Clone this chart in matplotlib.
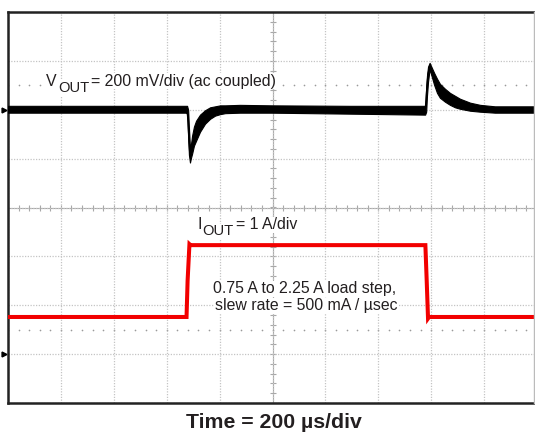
import matplotlib
matplotlib.use("Agg")
import matplotlib.pyplot as plt
import numpy as np
from matplotlib.lines import Line2D

# ---- scope settings ----
time_per_div_us = 200
n_xdiv = 10
n_ydiv = 8

# ---- Channel 1: VOUT (ac coupled), 200 mV/div, ground marker at +2 div ----
vout_scale_mv = 200
vout_ground_div = 2
vout_t_us = [0, 673, 677, 681, 684, 688, 692, 696, 703, 711, 726, 745, 764, 783,
             802, 821, 877, 998, 1293, 1577, 1581, 1584, 1588, 1594, 1599, 1611,
             1622, 1633, 1652, 1671, 1690, 1709, 1747, 1785, 1841, 2000]
vout_hi_mv = [16, 16, 16, 0, -73, -155, -139, -106, -69, -45, -20, -2, 10, 14,
              18, 18, 20, 18, 16, 16, 90, 139, 176, 192, 180, 151,
              127, 106, 86, 69, 57, 45, 29, 20, 14, 14]
vout_lo_mv = [-12, -12, -16, -102, -184, -216, -196, -180, -147, -127, -90, -57, -37, -24,
              -18, -14, -12, -12, -16, -20, -8, 57, 114, 167, 147, 102,
              69, 49, 33, 20, 10, 4, -4, -8, -12, -12]

# ---- Channel 2: IOUT, 1 A/div, ground marker at -3 div ----
iout_scale_a = 1
iout_ground_div = -3
iout_t_us = [0, 675, 679, 686, 690, 1578, 1583, 1588, 1592, 2000]
iout_a = [0.76, 0.76, 1.5, 2.25, 2.23, 2.23, 1.5, 0.73, 0.76, 0.76]

# ---- labels ----
vout_label = ("V", "OUT", "= 200 mV/div (ac coupled)")
iout_label = ("I", "OUT", "= 1 A/div")
note_lines = ["0.75 A to 2.25 A load step,", "slew rate = 500 mA / \u00b5sec"]
time_label = "Time = 200 \u00b5s/div"

plt.rcParams['font.family'] = ['Liberation Sans', 'DejaVu Sans']
txt_color = '#231f20'

W, H = 535, 432
fig = plt.figure(figsize=(W / 100, H / 100), dpi=100)
ax = fig.add_axes([8 / W, (H - 403) / H, 529 / W, 391 / H])

t_max = time_per_div_us * n_xdiv
ax.set_xlim(0, t_max)
ax.set_ylim(-n_ydiv / 2, n_ydiv / 2)

# grid
ax.set_xticks(np.arange(0, t_max + 1, time_per_div_us))
ax.set_yticks(np.arange(-n_ydiv / 2, n_ydiv / 2 + 0.1, 1))
ax.tick_params(length=0, labelbottom=False, labelleft=False)
ax.grid(True, color='#c4c4c4', linestyle=(0, (1, 1.2)), linewidth=0.9, zorder=0)

# center axes with minor ticks
grey = '#a8a8a8'
ax.axhline(0, color=grey, lw=0.8, zorder=0.5)
ax.axvline(t_max / 2, color=grey, lw=0.8, zorder=0.5)
xt = np.arange(0, t_max + 1, time_per_div_us / 5)
yt = np.arange(-n_ydiv / 2, n_ydiv / 2 + 0.01, 0.2)
ax.plot(xt, np.zeros_like(xt), ls='none', marker='|', ms=4.5, mew=0.8, color=grey, zorder=0.5)
ax.plot(np.full_like(yt, t_max / 2), yt, ls='none', marker='_', ms=4.5, mew=0.8, color=grey, zorder=0.5)

# sparse dotted marker rows at +/-2.5 div
for yy in (2.5, -2.5):
    ax.plot(xt, np.full_like(xt, yy), ls='none', marker='o', ms=1.2, mew=0,
            color='#9a9a9a', zorder=0.6)

# spines
for s in ('left', 'top', 'bottom'):
    ax.spines[s].set_color('#222222')
    ax.spines[s].set_linewidth(1.8)
ax.spines['right'].set_color('#bbbbbb')
ax.spines['right'].set_linewidth(1.0)
fig.add_artist(Line2D([534 / W, 534 / W], [(H - 403) / H, (H - 12) / H],
                      color='#bbbbbb', lw=1.0, transform=fig.transFigure))

# VOUT trace
vt = np.array(vout_t_us)
vhi = vout_ground_div + np.array(vout_hi_mv) / vout_scale_mv
vlo = vout_ground_div + np.array(vout_lo_mv) / vout_scale_mv
ax.fill_between(vt, vlo, vhi, color='black', lw=0.8, zorder=3)
ax.plot(vt, (vhi + vlo) / 2, color='black', lw=1.0, zorder=3)

# IOUT trace
iy = iout_ground_div + np.array(iout_a) / iout_scale_a
ax.plot(iout_t_us, iy, color='#f20000', lw=2.9, zorder=3, solid_joinstyle='miter')

# ground markers
ax.plot([-15], [vout_ground_div], marker='>', ms=3.5, color='black', clip_on=False, zorder=5)
ax.plot([-15], [iout_ground_div], marker='>', ms=3.5, color='black', clip_on=False, zorder=5)

bb = dict(facecolor='white', edgecolor='none', pad=0.5)
fs_main = 11.4

def sub_label(x, y, parts, fs=fs_main):
    t1 = ax.text(x, y, parts[0], fontsize=fs, color=txt_color, va='baseline',
                 ha='left', bbox=bb, zorder=2.2)
    t2 = ax.annotate(parts[1], xy=(1, 0), xycoords=t1, xytext=(0.8, -4.3),
                     textcoords='offset points', fontsize=fs - 0.8, color=txt_color,
                     va='bottom', ha='left', bbox=bb, zorder=2.1)
    ax.annotate(parts[2], xy=(1, 0), xycoords=t2, xytext=(1.6, 4.3),
                textcoords='offset points', fontsize=fs, color=txt_color,
                va='bottom', ha='left', bbox=bb, zorder=2.0)

sub_label(144, 2.49, vout_label)
sub_label(715, -0.45, iout_label)
ax.text(775, -1.755, note_lines[0], fontsize=fs_main, color=txt_color, va='baseline',
        ha='left', bbox=bb, zorder=2)
ax.text(783, -2.10, note_lines[1], fontsize=fs_main, color=txt_color, va='baseline',
        ha='left', bbox=bb, zorder=2)

fig.text(273.5 / W, (H - 428) / H, time_label, fontsize=15.3, fontweight='bold',
         color=txt_color, ha='center', va='baseline')

fig.savefig('out.png', dpi=100)
